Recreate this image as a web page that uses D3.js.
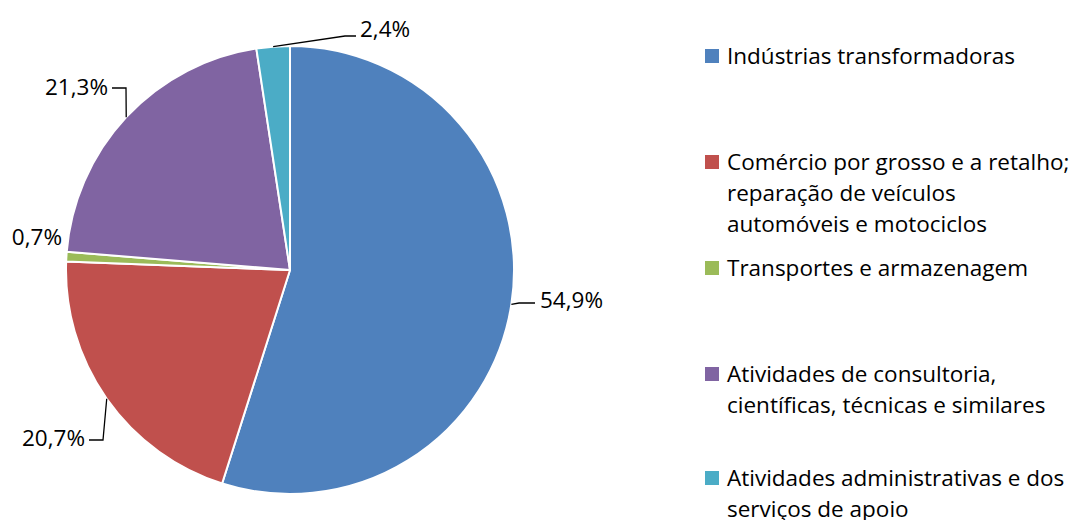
<!DOCTYPE html>
<html><head><meta charset="utf-8">
<script src="https://cdn.jsdelivr.net/npm/d3@7"></script>
<style>body{margin:0;background:#fff}svg{display:block}text{font-family:"Open Sans","Noto Sans",sans-serif;fill:#000}</style>
</head><body><svg id="c" width="1081" height="520"></svg>
<script>
const categories = [
  "Indústrias transformadoras",
  "Comércio por grosso e a retalho; reparação de veículos automóveis e motociclos",
  "Transportes e armazenagem",
  "Atividades de consultoria, científicas, técnicas e similares",
  "Atividades administrativas e dos serviços de apoio"
];
const values = [54.9, 20.7, 0.7, 21.3, 2.4];
const valueLabels = ["54,9%", "20,7%", "0,7%", "21,3%", "2,4%"];
const legendLines = [
  ["Indústrias transformadoras"],
  ["Comércio por grosso e a retalho;", "reparação de veículos", "automóveis e motociclos"],
  ["Transportes e armazenagem"],
  ["Atividades de consultoria,", "científicas, técnicas e similares"],
  ["Atividades administrativas e dos", "serviços de apoio"]
];
const colors = ["#4F81BD", "#C0504D", "#9BBB59", "#8064A2", "#4BACC6"];

// layout
const cx = 290, cy = 270, R = 224;
const fontSize = 22.5;
// label text anchor positions and elbow points
const labelLayout = [
  {x: 540, y: 308, anchor: "start", elbow: [519, 303], end: [535, 303]},
  {x: 85,  y: 446, anchor: "end",   elbow: [103, 440], end: [89, 440]},
  {x: 62,  y: 245, anchor: "end",   elbow: null, end: null},
  {x: 108, y: 95,  anchor: "end",   elbow: [126, 88], end: [112, 88]},
  {x: 360, y: 37,  anchor: "start", elbow: [345, 36], end: [356, 36]}
];
const legendTop = [56, 162, 268, 374, 478];
const legendX = 705, sq = 14, lineH = 31;

const svg = d3.select("#c");
const pie = d3.pie().sort(null).value(d => d)(values);
const arc = d3.arc().innerRadius(0).outerRadius(R);
const g = svg.append("g").attr("transform", `translate(${cx},${cy})`);
g.selectAll("path").data(pie).join("path")
  .attr("d", arc).attr("fill", (d, i) => colors[i])
  .attr("stroke", "#fff").attr("stroke-width", 2).attr("stroke-linejoin", "round");

// labels
pie.forEach((d, i) => {
  const a = (d.startAngle + d.endAngle) / 2;
  const px = cx + R * Math.sin(a), py = cy - R * Math.cos(a);
  const L = labelLayout[i];
  if (L.elbow) {
    svg.append("path")
      .attr("d", d3.line()([[px, py], L.elbow, L.end]))
      .attr("fill", "none").attr("stroke", "#000").attr("stroke-width", 1.3);
  }
  svg.append("text").attr("x", L.x).attr("y", L.y)
    .attr("text-anchor", L.anchor).attr("font-size", fontSize)
    .text(valueLabels[i]);
});

// legend
legendLines.forEach((lines, i) => {
  const y0 = legendTop[i];
  svg.append("rect").attr("x", legendX).attr("y", y0 - sq / 2).attr("width", sq).attr("height", sq).attr("fill", colors[i]);
  lines.forEach((t, j) => {
    svg.append("text").attr("x", legendX + 22).attr("y", y0 + j * lineH)
      .attr("dy", "0.35em").attr("font-size", fontSize).text(t);
  });
});
</script></body></html>
